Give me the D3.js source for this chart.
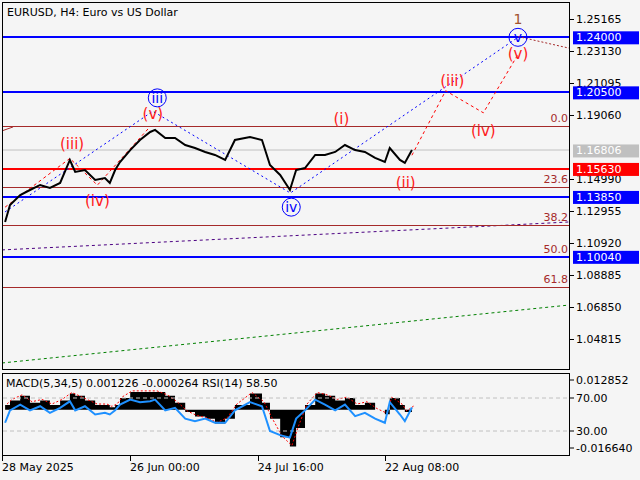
<!DOCTYPE html><html><head><meta charset="utf-8"><script src="https://cdn.jsdelivr.net/npm/d3@7"></script>
<style>body{margin:0;background:#f5f5f5}svg{font-family:Tahoma,"DejaVu Sans",sans-serif}</style></head><body><svg id="c" width="640" height="480"></svg><script>
const days=[0.7,1.8,4.1,6.3,8.6,10.8,13.1,15.3,16.5,18.7,21,23.2,24.3,25.5,26.6,28.9,31.1,33.4,34.5,36.8,39,41.3,43.5,45.8,48,50.3,52.5,55.9,58.6,60.4,62.7,64.9,66.3,68.3,70.6,72.8,75.1,77.3,79.6,81.8,84.1,86.3,87.4,89.7,90.8,92.4];
const price=[1.1225,1.1334,1.1397,1.1429,1.1461,1.1442,1.1474,1.1620,1.1544,1.1556,1.1493,1.1505,1.1474,1.1556,1.1607,1.1683,1.1747,1.1798,1.1811,1.1760,1.1760,1.1715,1.1696,1.1671,1.1652,1.1620,1.1747,1.1766,1.1747,1.1588,1.1525,1.1429,1.1556,1.1569,1.1652,1.1652,1.1671,1.1715,1.1683,1.1671,1.1633,1.1607,1.1696,1.1620,1.1601,1.1683];
const macd=[0.002,0.004,0.006,0.003,0.004,0.002,0.004,0.007,0.006,0.004,0.002,0.002,0.001,0.002,0.005,0.0077,0.0077,0.0077,0.0077,0.006,0.003,-0.001,-0.003,-0.004,-0.006,-0.004,0.002,0.007,0.003,-0.004,-0.012,-0.016,-0.008,0.002,0.007,0.006,0.004,0.005,0.002,0.003,0.0,-0.002,0.005,0.002,-0.001,0.0012];
const rsi=[40,55,62,55,60,52,58,66,55,60,50,52,50,55,62,68,65,66,68,55,58,45,42,45,40,40,55,65,60,30,25,22,45,55,68,62,55,62,48,52,45,40,65,50,42,58.5];
const priceTicks=[1.25165,1.23130,1.21095,1.19060,1.14990,1.12955,1.10920,1.08885,1.06850,1.04815];
const dateTicks=[{d:0,t:"28 May 2025"},{d:28.83,t:"26 Jun 00:00"},{d:57.67,t:"24 Jul 16:00"},{d:86.33,t:"22 Aug 08:00"}];
const levels=[{p:1.24000,c:"#0000ff",w:2,lab:"1.24000"},{p:1.20500,c:"#0000ff",w:2,lab:"1.20500"},{p:1.16806,c:"#c0c0c0",w:1,lab:"1.16806"},{p:1.15630,c:"#ff0000",w:2,lab:"1.15630"},{p:1.13850,c:"#0000ff",w:2,lab:"1.13850"},{p:1.10040,c:"#0000ff",w:2,lab:"1.10040"}];
const fib=[{p:1.1836,t:"0.0"},{p:1.1445,t:"23.6"},{p:1.1205,t:"38.2"},{p:1.1003,t:"50.0"},{p:1.0812,t:"61.8"}];
const blueWave=[[0.7,1.1290],[34,1.1930],[65,1.1410],[116.3,1.2400]];
const redWave1=[[0.7,1.1320],[15.3,1.1630],[21.5,1.1460],[33,1.1820]];
const redWave2=[[92.4,1.1650],[100,1.2060],[108.5,1.1920],[116.5,1.2300]];
const blueLab=[[35,1.2015,"iii"],[65.2,1.1320,"iv"],[116.3,1.2400,"v"]];
const redLab=[[15.8,1.1690,"(iii)"],[21.5,1.1330,"(iv)"],[34,1.1880,"(v)"],[76.5,1.1850,"(i)"],[91,1.1440,"(ii)"],[101.5,1.2090,"(iii)"],[108.5,1.1770,"(iv)"],[116.3,1.2260,"(v)"]];
const svg=d3.select("#c");
const x=d3.scaleLinear().domain([0,86.33]).range([2,385]);
const y=d3.scaleLinear().domain([1.25165,1.04815]).range([19,339]);
const ym=d3.scaleLinear().domain([0.012852,-0.01664]).range([380,448]);
const yr=d3.scaleLinear().domain([70,30]).range([398,431]);
svg.append("rect").attr("x",2.5).attr("y",2.5).attr("width",567).attr("height",367).attr("fill","#f5f5f5").attr("stroke","#000");
svg.append("rect").attr("x",2.5).attr("y",373.5).attr("width",567).attr("height",82).attr("fill","#f5f5f5").attr("stroke","#000");
svg.append("defs").append("clipPath").attr("id","cp").append("rect").attr("x",3).attr("y",3).attr("width",566).attr("height",366);
const g=svg.append("g").attr("clip-path","url(#cp)");
g.append("line").attr("x1",x(0)).attr("y1",y(1.0329)).attr("x2",x(128)).attr("y2",y(1.0698)).attr("stroke","#008000").attr("stroke-dasharray","3,3");
g.append("path").attr("d",d3.line()([[x(0),y(1.1048)],[x(110),y(1.1200)],[x(128),y(1.1226)]])).attr("fill","none").attr("stroke","#4b0082").attr("stroke-dasharray","3,3");
g.append("line").attr("x1",x(0)).attr("y1",y(1.1805)).attr("x2",x(2.5)).attr("y2",y(1.1830)).attr("stroke","#a52a2a");
fib.forEach(f=>{g.append("line").attr("x1",2).attr("x2",570).attr("y1",Math.round(y(f.p))+.5).attr("y2",Math.round(y(f.p))+.5).attr("stroke","#a52a2a");
 svg.append("text").attr("x",568).attr("y",y(f.p)-4).attr("text-anchor","end").attr("font-size",11).attr("fill","#a52a2a").text(f.t);});
levels.forEach(l=>g.append("line").attr("x1",2).attr("x2",570).attr("y1",Math.round(y(l.p))).attr("y2",Math.round(y(l.p))).attr("stroke",l.c).attr("stroke-width",l.w));
const ln=d3.line().x(d=>x(d[0])).y(d=>y(d[1]));
g.append("path").attr("d",ln(blueWave)).attr("fill","none").attr("stroke","#0000ff").attr("stroke-dasharray","2,3");
[redWave1,redWave2].forEach(w=>g.append("path").attr("d",ln(w)).attr("fill","none").attr("stroke","#ff0000").attr("stroke-dasharray","3,3"));
g.append("path").attr("d",ln([[116.3,1.2405],[128,1.2330]])).attr("fill","none").attr("stroke","#a52a2a").attr("stroke-dasharray","2,2");
g.append("path").attr("d",d3.line().x((d,i)=>x(days[i])).y(d=>y(d))(price)).attr("fill","none").attr("stroke","#000").attr("stroke-width",2);
redLab.forEach(r=>svg.append("text").attr("x",x(r[0])).attr("y",y(r[1])).attr("text-anchor","middle").attr("font-size",15).attr("fill","#ff2020").text(r[2]));
blueLab.forEach(b=>{svg.append("circle").attr("cx",x(b[0])).attr("cy",y(b[1])).attr("r",9).attr("fill","none").attr("stroke","#0000ff");
 svg.append("text").attr("x",x(b[0])).attr("y",y(b[1])+5).attr("text-anchor","middle").attr("font-size",14).attr("fill","#0000ff").text(b[2]);});
svg.append("text").attr("x",x(116.3)).attr("y",24).attr("text-anchor","middle").attr("font-size",14).attr("fill","#a0522d").text("1");
svg.append("text").attr("x",7).attr("y",16).attr("font-size",11).text("EURUSD, H4:  Euro vs US Dollar");
priceTicks.forEach(p=>{svg.append("line").attr("x1",570).attr("x2",574).attr("y1",Math.round(y(p))+.5).attr("y2",Math.round(y(p))+.5).attr("stroke","#000");
 svg.append("text").attr("x",576).attr("y",y(p)+4).attr("font-size",11).text(p.toFixed(5));});
levels.forEach(l=>{svg.append("rect").attr("x",573).attr("y",y(l.p)-6).attr("width",66).attr("height",13).attr("fill",l.c);
 svg.append("text").attr("x",576).attr("y",y(l.p)+4).attr("font-size",11).attr("fill","#fff").text(l.lab);});
const xs=d=>x(d);
svg.append("path").attr("d",d3.area().x((d,i)=>xs(days[i])).y0(ym(0)).y1(d=>ym(d)).curve(d3.curveStepAfter)(macd)).attr("fill","#000");
svg.append("path").attr("d",d3.line().x((d,i)=>xs(days[i])+2).y(d=>ym(d)-1)(macd)).attr("fill","none").attr("stroke","#ff0000").attr("stroke-dasharray","2,2");
[70,30].forEach(v=>svg.append("line").attr("x1",3).attr("x2",569).attr("y1",yr(v)).attr("y2",yr(v)).attr("stroke","#c0c0c0").attr("stroke-dasharray","4,3"));
svg.append("path").attr("d",d3.line().x((d,i)=>xs(days[i])).y(d=>yr(d))(rsi)).attr("fill","none").attr("stroke","#1e90ff").attr("stroke-width",2);
svg.append("text").attr("x",6).attr("y",387).attr("font-size",11).text("MACD(5,34,5) 0.001226 -0.000264 RSI(14) 58.50");
[["0.012852",ym(0.012852)],["70.00",yr(70)],["30.00",yr(30)],["-0.016640",ym(-0.01664)]].forEach(t=>{
 svg.append("line").attr("x1",570).attr("x2",574).attr("y1",t[1]).attr("y2",t[1]).attr("stroke","#000");
 svg.append("text").attr("x",576).attr("y",t[1]+4).attr("font-size",11).text(t[0]);});
dateTicks.forEach(t=>{svg.append("line").attr("x1",Math.round(x(t.d))+.5).attr("x2",Math.round(x(t.d))+.5).attr("y1",456).attr("y2",461).attr("stroke","#000");
 svg.append("text").attr("x",x(t.d)).attr("y",471).attr("font-size",11).text(t.t);});
</script></body></html>
